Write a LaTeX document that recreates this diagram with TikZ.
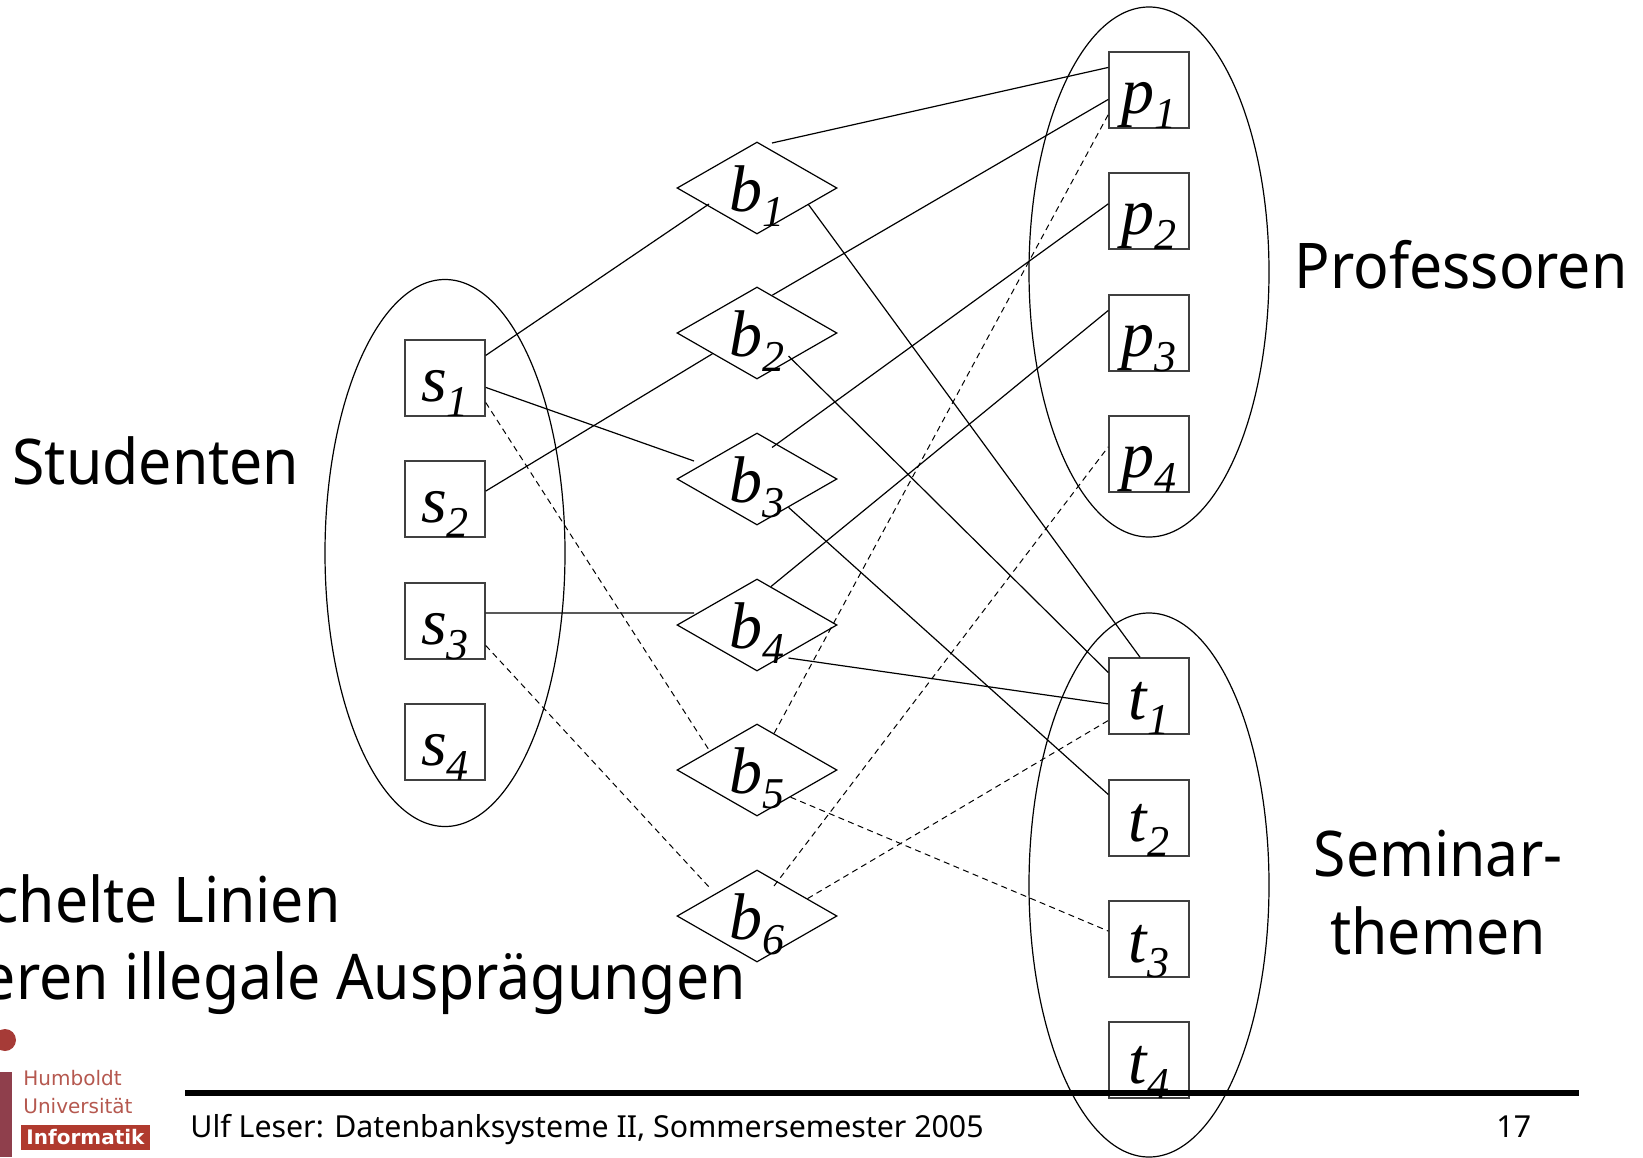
\documentclass[tikz,border=0pt]{standalone}
\usepackage{fontspec}
\setmainfont[FakeStretch=0.935]{Noto Sans}
\newfontfamily\labelfont{Liberation Serif}
\newfontfamily\footerfont{Noto Sans}
\newfontfamily\logofont{DejaVu Sans}
\usetikzlibrary{shapes.geometric}

\definecolor{huRed}{HTML}{B03A2E}
\definecolor{huBar}{HTML}{8F3F4C}
\definecolor{huText}{HTML}{B5584F}

% letter with its index, centred on the node and taking no room in it
\newcommand{\sublabel}[2]{\smash{\makebox[0pt]{\raisebox{-11.75pt}{\labelfont\itshape\fontsize{33}{33}\selectfont #1\raisebox{-7.5pt}{\fontsize{22}{22}\selectfont #2}}}}}

\tikzset{
	entitybox/.style={draw=black!75, line width=0.7pt, rectangle, minimum width=40pt, minimum height=38pt, inner sep=0pt},
	relbox/.style={draw, line width=0.6pt, diamond, minimum width=80pt, minimum height=46pt, inner sep=0pt},
	groupring/.style={draw, line width=0.6pt, ellipse, minimum width=120pt, inner sep=0pt},
	legal/.style={line width=0.6pt},
	illegal/.style={line width=0.5pt, dash pattern=on 3pt off 2.2pt},
	slidetext/.style={font=\fontsize{31.5}{39}\selectfont, inner sep=0pt, anchor=base},
	footertext/.style={font=\footerfont\fontsize{15.15}{15.15}\selectfont, anchor=base west, inner sep=0pt},
	logotext/.style={text=huText, font=\logofont\fontsize{10}{10}\selectfont, anchor=base west, inner sep=0pt},
}

\begin{document}
\begin{tikzpicture}[x=0.5pt, y=-0.5pt]
	\useasboundingbox (0,0) rectangle (1643,1157);

	% Draw the three groups
	\node[groupring, minimum height=273.5pt] (groupS) at (445,553) {};
	\node[groupring, minimum height=265pt] (groupP) at (1149,272) {};
	\node[groupring, minimum height=272pt] (groupT) at (1149,885) {};

	% Draw the entities of each group
	\foreach \i/\y in {1/378, 2/499, 3/621, 4/742}
		\node[entitybox] (s\i) at (445,\y) {\sublabel{s}{\i}};
	\foreach \i/\y in {1/90, 2/211, 3/333, 4/454}
		\node[entitybox] (p\i) at (1149,\y) {\sublabel{p}{\i}};
	\foreach \i/\y in {1/696, 2/818, 3/939, 4/1060}
		\node[entitybox] (t\i) at (1149,\y) {\sublabel{t}{\i}};

	% Draw the relationship diamonds
	\foreach \i/\y in {1/188, 2/333, 3/479, 4/625, 5/770, 6/916}
		\node[relbox] (b\i) at (757,\y) {\sublabel{b}{\i}};

	% Link ends that stop off the diamond outline
	\coordinate (b1in) at (709,204);
	\coordinate (b1up) at (772,143);
	\coordinate (b2out) at (788.5,356);
	\coordinate (b3in) at (694,461);
	\coordinate (b3up) at (772,447.5);
	\coordinate (b4in) at (694,613);
	\coordinate (b4out) at (788.5,658);
	\coordinate (b6in) at (709,887);
	\coordinate (b6up) at (774,886);

	% Add legal links
	\draw[legal] (s1.29) -- (b1in);
	\draw[legal] (s2.11) -- (b2.205);
	\draw[legal] (s1.-13) -- (b3in);
	\draw[legal] (s3.11) -- (b4in);
	\draw[legal] (b1up) -- (p1.151);
	\draw[legal] (b2.68) -- (p1.193);
	\draw[legal] (b3up) -- (p2.170);
	\draw[legal] (b4.70) -- (p3.151);
	\draw[legal] (b1.-18) -- (t1.103);
	\draw[legal] (b2out) -- (t1.150);
	\draw[legal] (b3.-42) -- (t2.150);
	\draw[legal] (b4out) -- (t1.191);

	% Add illegal links
	\draw[illegal] (s1.-31) -- (b5.158);
	\draw[illegal] (s3.-31) -- (b6in);
	\draw[illegal] (b5.65) -- (p1.211);
	\draw[illegal] (b6up) -- (p4.170);
	\draw[illegal] (b5.-39) -- (t3.169);
	\draw[illegal] (b6.19) -- (t1.211);

	% Label the groups
	\node[slidetext] (labelP) at (1461,288) {Professoren};
	\node[slidetext] (labelS) at (156,484) {Studenten};
	\node[slidetext, align=center] (labelT) at (1438,954) {Seminar-\\themen};
	\node[slidetext, anchor=base east] (noteA) at (341,922) {chelte Linien};
	\node[slidetext, anchor=base east] (noteB) at (746,999) {eren illegale Ausprägungen};

	% Footer
	\fill[huRed!70!huBar] (5,1040) circle[radius=5.5pt];
	\fill[huBar] (0,1072) rectangle (12,1157);
	\node[logotext] (logoA) at (23,1085) {Humboldt};
	\node[logotext] (logoB) at (23,1113) {Universität};
	\node[fill=huRed, text=white, font=\logofont\bfseries\fontsize{10}{10}\selectfont, minimum width=64.5pt, minimum height=12.5pt, inner sep=0pt] (logoC) at (85.5,1137.5) {Informatik};
	\draw[line width=3pt] (185,1093) -- (1579,1093);
	\node[footertext] (footer) at (190,1137) {Ulf Leser: Datenbanksysteme II, Sommersemester 2005};
	\node[footertext] (page) at (1496,1137) {17};
\end{tikzpicture}
\end{document}
